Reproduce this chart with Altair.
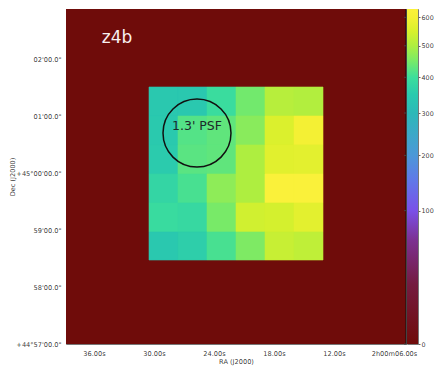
import json
import altair as alt
import pandas as pd

# colour map (value, colour)
STOP_VALUES = [0, 20, 60, 100, 150, 200, 300, 350, 400, 450, 500, 550, 600, 650]
STOP_COLORS = ["#6f0c0a", "#741c40", "#7c3090", "#7a50e8", "#6078e8", "#4c98d8", "#2db8b8",
               "#2acaae", "#3cde9c", "#78ea68", "#aeee40", "#d8f02c", "#f4f034", "#fff240"]
VMAX = 631

RA_TICKS = [36, 30, 24, 18, 12, 6]
DEC_TICKS = [0, 1, 2, 3, 4, 5]
DEC_LABELS = ['+44°57\'00.0"', "58'00.0\"", "59'00.0\"", "+45°00'00.0\"", "01'00.0\"", "02'00.0\""]
CBAR_TICKS = [0, 100, 200, 300, 400, 500, 600]

RA_DOMAIN = [38.8, 4.8]
DEC_DOMAIN = [0, 335 / 57]
RA_EDGES = [30.5, 27.6, 24.7, 21.8, 18.9, 16.0, 13.1]
DEC_EDGES = [257 / 57, 228 / 57, 199 / 57, 170 / 57, 141 / 57, 112 / 57, 84 / 57]

CELLS = [
    [345, 345, 395, 445, 510, 505],
    [348, 420, 430, 465, 555, 600],
    [352, 425, 430, 500, 565, 570],
    [378, 410, 470, 500, 625, 625],
    [392, 385, 450, 540, 545, 570],
    [345, 360, 410, 455, 530, 520],
]

rows = []
for r, row in enumerate(CELLS):
    for c, v in enumerate(row):
        rows.append(dict(ra=RA_EDGES[c], ra2=RA_EDGES[c + 1], dec=DEC_EDGES[r], dec2=DEC_EDGES[r + 1], v=v))
cells = pd.DataFrame(rows)
sky = pd.DataFrame([dict(ra=RA_DOMAIN[0], ra2=RA_DOMAIN[1], dec=DEC_DOMAIN[0], dec2=DEC_DOMAIN[1], v=0)])

x_scale = alt.Scale(domain=RA_DOMAIN, nice=False, zero=False)
y_scale = alt.Scale(domain=DEC_DOMAIN, nice=False, zero=False)
color_scale = alt.Scale(type="sqrt", domain=STOP_VALUES, range=STOP_COLORS, interpolate="rgb")
FONT = "DejaVu Sans"
GREY = "#333333"

x_axis = alt.Axis(values=RA_TICKS, title="RA (J2000)", grid=False, labelFontSize=6.6, titleFontSize=6.6,
                  titleFont=FONT, labelFont=FONT, titleFontWeight="normal", labelColor=GREY, titleColor=GREY,
                  labelOpacity=0.99, titleOpacity=0.99,
                  ticks=False, domain=False, labelPadding=6, titlePadding=2, labelFlush=False,
                  labelExpr="datum.value==6 ? '2h00m06.00s' : format(datum.value,'.2f')+'s'")
y_axis = alt.Axis(values=DEC_TICKS, title="Dec (J2000)", grid=False, labelFontSize=6.6, titleFontSize=6.6,
                  titleFont=FONT, labelFont=FONT, titleFontWeight="normal", labelColor=GREY, titleColor=GREY,
                  labelOpacity=0.99, titleOpacity=0.99,
                  ticks=False, domain=False, labelPadding=5, titlePadding=1, minExtent=50, maxExtent=50,
                  labelExpr=json.dumps(DEC_LABELS) + "[datum.value]")

X = alt.X("ra:Q", scale=x_scale, axis=x_axis)
Y = alt.Y("dec:Q", scale=y_scale, axis=y_axis)
C = alt.Color("v:Q", scale=color_scale, legend=None)
S = alt.Stroke("v:Q", scale=color_scale, legend=None)

base = alt.Chart(sky).mark_rect().encode(x=X, x2="ra2:Q", y=Y, y2="dec2:Q", color=C)
heat = alt.Chart(cells).mark_rect(strokeWidth=0.6).encode(x=X, x2="ra2:Q", y=Y, y2="dec2:Q", color=C, stroke=S)
circle = alt.Chart(pd.DataFrame([dict(ra=25.7, dec=3.70)])).mark_point(
    shape="circle", size=4624, filled=False, stroke="#111111", strokeWidth=1.5, opacity=1
).encode(x=X, y=Y)
psf_text = alt.Chart(pd.DataFrame([dict(ra=25.7, dec=3.83, label="1.3' PSF")])).mark_text(
    font=FONT, fontSize=12.5, color="#1c2a2a").encode(x=X, y=Y, text="label:N")
name = alt.Chart(pd.DataFrame([dict(ra=33.7, dec=5.37, label="z4b")])).mark_text(
    font=FONT, fontSize=17, color="#f8f0f0").encode(x=X, y=Y, text="label:N")
edge = alt.Chart(pd.DataFrame([dict(ra=RA_DOMAIN[1])])).mark_rule(color="#111111", strokeWidth=1).encode(
    x=X, y=alt.value(0), y2=alt.value(335))

main = alt.layer(base, heat, circle, psf_text, name, edge).properties(width=340, height=335)

# colour bar: one rectangle with a gradient made of the same stops
keep = [(v, c) for v, c in zip(STOP_VALUES, STOP_COLORS) if v <= VMAX]
stops = [alt.GradientStop(offset=(v / VMAX) ** 0.5, color=c) for v, c in keep] + [
    alt.GradientStop(offset=1, color="#fbf13a")]
cbar_scale = alt.Scale(type="sqrt", domain=[0, VMAX], nice=False)
cbar_axis = alt.Axis(values=CBAR_TICKS, orient="right", title=None, grid=False, labelFontSize=6.4,
                     labelFont=FONT, labelColor=GREY, labelOpacity=0.99, tickSize=2, tickColor="#666666",
                     domain=False, labelPadding=1)
cbar_rect = alt.Chart(pd.DataFrame([dict(a=0, b=VMAX)])).mark_rect(
    fill=alt.LinearGradient(gradient="linear", x1=0, y1=1, x2=0, y2=0, stops=stops),
).encode(y=alt.Y("a:Q", scale=cbar_scale, axis=cbar_axis), y2="b:Q")
cbar_ticks = alt.Chart(pd.DataFrame({"a": CBAR_TICKS})).mark_rule(color="#444444", strokeWidth=1).encode(
    y=alt.Y("a:Q", scale=cbar_scale, axis=cbar_axis), x=alt.value(-3), x2=alt.value(0))
cbar = alt.layer(cbar_rect, cbar_ticks).properties(width=11, height=335)

chart = alt.hconcat(main, cbar, spacing=1, bounds="flush", padding=0).configure_view(stroke="#777777", strokeWidth=1)
chart.save("out.html", embed_options={"renderer": "svg", "actions": False})
